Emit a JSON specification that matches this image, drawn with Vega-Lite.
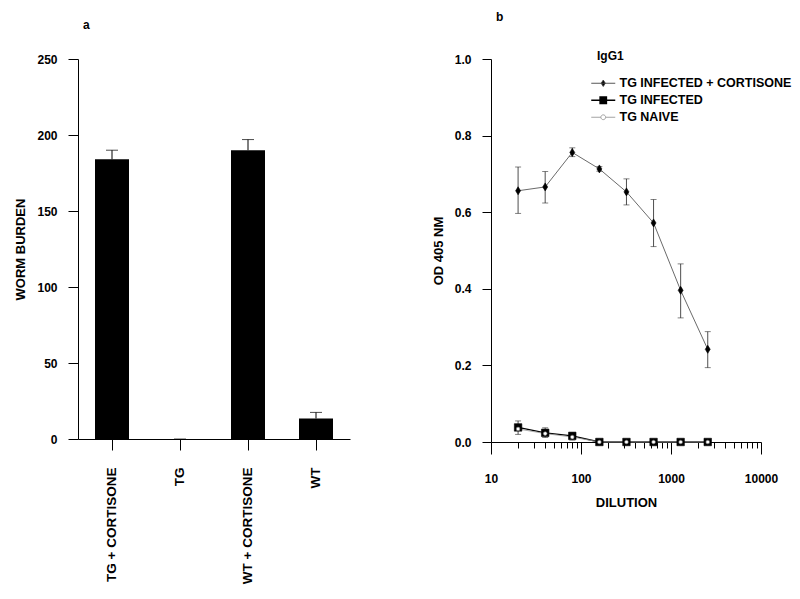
{
  "$schema": "https://vega.github.io/schema/vega-lite/v6.json",
  "background": "white",
  "padding": {"left": 14, "top": 11, "right": 5, "bottom": 5},
  "spacing": 141,
  "bounds": "flush",
  "resolve": {"scale": {"color": "independent"}, "legend": {"color": "independent"}},
  "config": {
    "view": {"stroke": null},
    "font": "Liberation Sans",
    "axis": {
      "labelFont": "Liberation Sans", "titleFont": "Liberation Sans",
      "labelFontSize": 12, "titleFontSize": 13, "labelFontWeight": "bold", "titleFontWeight": "bold",
      "labelColor": "black", "titleColor": "black", "domainColor": "black", "tickColor": "black",
      "grid": false, "labelFlush": false, "labelOverlap": false
    },
    "title": {"font": "Liberation Sans", "fontSize": 12, "fontWeight": "bold", "color": "black"}
  },
  "hconcat": [
    {
      "width": 272,
      "height": 380,
      "title": {"text": "a", "anchor": "start", "frame": "group", "dx": 5, "offset": 21},
      "data": {"values": [
        {"group": "TG + CORTISONE", "worms": 184, "upper": 190},
        {"group": "TG", "worms": 0, "upper": 0},
        {"group": "WT + CORTISONE", "worms": 190, "upper": 197},
        {"group": "WT", "worms": 13.5, "upper": 17.5}
      ]},
      "encoding": {
        "x": {"field": "group", "type": "nominal", "sort": null,
          "scale": {"paddingInner": 0.5, "paddingOuter": 0.25},
          "axis": {"title": null, "labelAngle": -90, "tickSize": 11, "labelPadding": 17, "labelFontSize": 13.5}}
      },
      "layer": [
        {
          "mark": {"type": "bar", "color": "black"},
          "encoding": {
            "y": {"field": "worms", "type": "quantitative", "scale": {"domain": [0, 250], "nice": false},
              "axis": {"title": "WORM BURDEN", "values": [0, 25, 50, 75, 100, 125, 150, 175, 200, 225, 250],
                "labelExpr": "datum.value % 50 === 0 ? datum.label : ''",
                "tickSize": {"condition": {"test": "datum.value % 50 === 0", "value": 10}, "value": 5},
                "labelPadding": 11, "titlePadding": 9}}
          }
        },
        {
          "mark": {"type": "rule", "color": "black", "strokeWidth": 1},
          "encoding": {"y": {"field": "worms", "type": "quantitative"}, "y2": {"field": "upper"}}
        },
        {
          "mark": {"type": "tick", "color": "black", "orient": "horizontal", "size": 12, "thickness": 1},
          "encoding": {"y": {"field": "upper", "type": "quantitative"}}
        }
      ]
    },
    {
      "width": 270,
      "height": 383,
      "title": {"text": "b", "anchor": "start", "frame": "group", "dx": 5, "offset": 27},
      "data": {"values": [
        {"dilution": 20, "series": "TG INFECTED + CORTISONE", "od": 0.656, "lo": 0.597, "hi": 0.718},
        {"dilution": 40, "series": "TG INFECTED + CORTISONE", "od": 0.666, "lo": 0.624, "hi": 0.706},
        {"dilution": 80, "series": "TG INFECTED + CORTISONE", "od": 0.756, "lo": 0.745, "hi": 0.768},
        {"dilution": 160, "series": "TG INFECTED + CORTISONE", "od": 0.713, "lo": 0.707, "hi": 0.719},
        {"dilution": 320, "series": "TG INFECTED + CORTISONE", "od": 0.653, "lo": 0.619, "hi": 0.687},
        {"dilution": 640, "series": "TG INFECTED + CORTISONE", "od": 0.572, "lo": 0.51, "hi": 0.633},
        {"dilution": 1280, "series": "TG INFECTED + CORTISONE", "od": 0.396, "lo": 0.324, "hi": 0.465},
        {"dilution": 2560, "series": "TG INFECTED + CORTISONE", "od": 0.242, "lo": 0.194, "hi": 0.288},
        {"dilution": 20, "series": "TG INFECTED", "od": 0.038, "lo": 0.02, "hi": 0.055},
        {"dilution": 40, "series": "TG INFECTED", "od": 0.024, "lo": 0.012, "hi": 0.037},
        {"dilution": 80, "series": "TG INFECTED", "od": 0.016, "lo": 0.005, "hi": 0.024},
        {"dilution": 160, "series": "TG INFECTED", "od": 0, "lo": 0, "hi": 0},
        {"dilution": 320, "series": "TG INFECTED", "od": 0, "lo": 0, "hi": 0},
        {"dilution": 640, "series": "TG INFECTED", "od": 0, "lo": 0, "hi": 0},
        {"dilution": 1280, "series": "TG INFECTED", "od": 0, "lo": 0, "hi": 0},
        {"dilution": 2560, "series": "TG INFECTED", "od": 0, "lo": 0, "hi": 0},
        {"dilution": 20, "series": "TG NAIVE", "od": 0.034, "lo": 0.034, "hi": 0.034},
        {"dilution": 40, "series": "TG NAIVE", "od": 0.022, "lo": 0.022, "hi": 0.022},
        {"dilution": 80, "series": "TG NAIVE", "od": 0.013, "lo": 0.013, "hi": 0.013},
        {"dilution": 160, "series": "TG NAIVE", "od": 0, "lo": 0, "hi": 0},
        {"dilution": 320, "series": "TG NAIVE", "od": 0, "lo": 0, "hi": 0},
        {"dilution": 640, "series": "TG NAIVE", "od": 0, "lo": 0, "hi": 0},
        {"dilution": 1280, "series": "TG NAIVE", "od": 0, "lo": 0, "hi": 0},
        {"dilution": 2560, "series": "TG NAIVE", "od": 0, "lo": 0, "hi": 0}
      ]},
      "encoding": {
        "x": {"field": "dilution", "type": "quantitative",
          "scale": {"type": "log", "domain": [10, 10000], "nice": false},
          "axis": {"title": "DILUTION", "format": "d",
            "values": [10, 20, 30, 40, 50, 60, 70, 80, 90, 100, 200, 300, 400, 500, 600, 700, 800, 900, 1000, 2000, 3000, 4000, 5000, 6000, 7000, 8000, 9000, 10000],
            "labelExpr": "indexof([10, 100, 1000, 10000], datum.value) >= 0 ? datum.label : ''",
            "tickSize": {"condition": {"test": "indexof([10, 100, 1000, 10000], datum.value) >= 0", "value": 12}, "value": 6},
            "labelPadding": 19, "titlePadding": 12}}
      },
      "layer": [
        {
          "mark": {"type": "line"},
          "encoding": {
            "y": {"field": "od", "type": "quantitative", "scale": {"domain": [0, 1], "nice": false},
              "axis": {"title": "OD 405 NM", "values": [0, 0.1, 0.2, 0.3, 0.4, 0.5, 0.6, 0.7, 0.8, 0.9, 1.0],
                "labelExpr": "round(datum.value * 10) % 2 === 0 ? format(datum.value, '.1f') : ''",
                "tickSize": {"condition": {"test": "round(datum.value * 10) % 2 === 0", "value": 9}, "value": 5},
                "labelPadding": 11, "titlePadding": 9}},
            "color": {"field": "series", "type": "nominal",
              "scale": {"domain": ["TG INFECTED + CORTISONE", "TG INFECTED", "TG NAIVE"], "range": ["#444444", "#000000", "#999999"]},
              "legend": {
                "title": "IgG1", "orient": "none", "legendX": 106, "legendY": -8, "padding": 0,
                "titleFont": "Liberation Sans", "titleFontSize": 12, "titleFontWeight": "bold", "titleColor": "black", "titlePadding": 14,
                "labelFont": "Liberation Sans", "labelFontSize": 12.5, "labelFontWeight": "bold", "labelColor": "black", "labelLimit": 400, "labelOffset": 10,
                "symbolSize": 256, "rowPadding": 4,
                "encode": {"symbols": {"update": {
                  "shape": {"signal": "datum.value === 'TG INFECTED + CORTISONE' ? 'M-1.5,0H1.5M0,-0.4L0.26,0L0,0.4L-0.26,0Z' : datum.value === 'TG INFECTED' ? 'M-1.5,0H1.5M-0.4,-0.4H0.4V0.4H-0.4Z' : 'M-1.5,0H-0.3M0.3,0H1.5M0.3,0A0.3,0.3 0 1,1 -0.3,0A0.3,0.3 0 1,1 0.3,0Z'"},
                  "fill": {"signal": "datum.value === 'TG NAIVE' ? 'white' : 'black'"},
                  "stroke": {"signal": "datum.value === 'TG NAIVE' ? '#888888' : 'black'"},
                  "strokeWidth": {"signal": "datum.value === 'TG INFECTED' ? 1.4 : 0.9"},
                  "opacity": {"value": 1}
                }}}
              }},
            "strokeWidth": {"condition": {"test": "datum.series === 'TG INFECTED'", "value": 1.3}, "value": 0.8}
          }
        },
        {
          "mark": {"type": "rule", "color": "#222222", "strokeWidth": 0.8},
          "encoding": {"y": {"field": "lo", "type": "quantitative"}, "y2": {"field": "hi"}}
        },
        {
          "mark": {"type": "tick", "color": "#222222", "orient": "horizontal", "size": 6, "thickness": 0.8},
          "encoding": {"y": {"field": "lo", "type": "quantitative"}}
        },
        {
          "mark": {"type": "tick", "color": "#222222", "orient": "horizontal", "size": 6, "thickness": 0.8},
          "encoding": {"y": {"field": "hi", "type": "quantitative"}}
        },
        {
          "mark": {"type": "point", "opacity": 1, "filled": true},
          "encoding": {
            "y": {"field": "od", "type": "quantitative"},
            "shape": {"condition": [
              {"test": "datum.series === 'TG INFECTED + CORTISONE'", "value": "M0,-1L0.62,0L0,1L-0.62,0Z"},
              {"test": "datum.series === 'TG INFECTED'", "value": "square"}], "value": "circle"},
            "fill": {"condition": {"test": "datum.series === 'TG NAIVE'", "value": "white"}, "value": "black"},
            "stroke": {"condition": {"test": "datum.series === 'TG NAIVE'", "value": "#666666"}, "value": "black"},
            "size": {"condition": [
              {"test": "datum.series === 'TG INFECTED + CORTISONE'", "value": 64},
              {"test": "datum.series === 'TG INFECTED'", "value": 56}], "value": 14},
            "strokeWidth": {"value": 0.6}
          }
        }
      ]
    }
  ]
}
